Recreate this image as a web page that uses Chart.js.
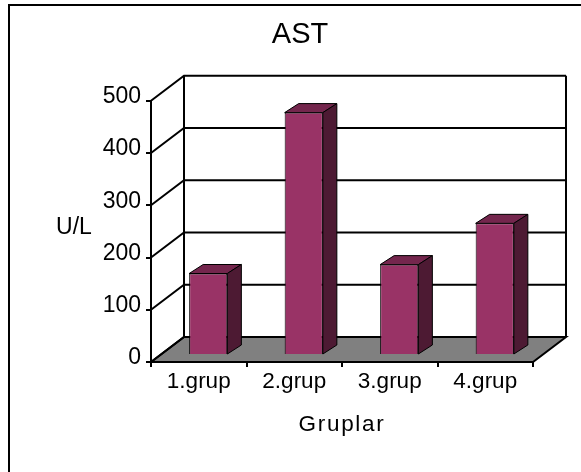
<!DOCTYPE html>
<html>
<head>
<meta charset="utf-8">
<style>
  html, body { margin: 0; padding: 0; background: #fff; }
  #wrap { width: 581px; height: 472px; }
</style>
<script src="https://cdn.jsdelivr.net/npm/chart.js@4"></script>
</head>
<body>
<div id="wrap"><canvas id="myChart" width="581" height="472"></canvas></div>
<script>
var categories = ['1.grup', '2.grup', '3.grup', '4.grup'];
var astValues = [156, 464, 173, 252];
var yTicks = [0, 100, 200, 300, 400, 500];
var chartTitle = 'AST';
var xTitle = 'Gruplar';
var yTitle = 'U/L';

var FONT = '"Liberation Sans", Arial, sans-serif';

// depth of the box and how far the bars sit inside it
var depthX = 33, depthY = 25;
var barInX = 9.5, barInY = 7;
var sideX = 14, sideY = 9;

var box3d = {
  id: 'box3d',
  beforeDraw: function(chart) {
    // frame only has a top and a left edge, it runs off the picture
    var ctx = chart.ctx;
    ctx.save();
    ctx.strokeStyle = '#000';
    ctx.lineWidth = 2;
    ctx.beginPath();
    ctx.moveTo(9, chart.height);
    ctx.lineTo(9, 5);
    ctx.lineTo(chart.width, 5);
    ctx.stroke();
    ctx.restore();
  },
  beforeDatasetsDraw: function(chart) {
    var ctx = chart.ctx, y = chart.scales.y, x = chart.scales.x;
    var left = x.left, right = x.right, zero = y.getPixelForValue(0);
    ctx.save();
    // floor
    ctx.fillStyle = '#808080';
    ctx.beginPath();
    ctx.moveTo(left, zero);
    ctx.lineTo(left + depthX, zero - depthY);
    ctx.lineTo(right + depthX, zero - depthY);
    ctx.lineTo(right, zero);
    ctx.closePath();
    ctx.fill();
    ctx.strokeStyle = '#000';
    ctx.lineWidth = 2;
    ctx.stroke();
    // grid on side and back wall
    yTicks.forEach(function(v) {
      var py = y.getPixelForValue(v);
      ctx.beginPath();
      ctx.moveTo(left, py);
      ctx.lineTo(left + depthX, py - depthY);
      ctx.lineTo(right + depthX, py - depthY);
      ctx.stroke();
    });
    // wall edges
    var topY = y.getPixelForValue(yTicks[yTicks.length - 1]);
    ctx.beginPath();
    ctx.moveTo(left + depthX, zero - depthY);
    ctx.lineTo(left + depthX, topY - depthY);
    ctx.moveTo(right + depthX, zero - depthY);
    ctx.lineTo(right + depthX, topY - depthY);
    ctx.stroke();
    ctx.restore();
  },
  beforeDatasetDraw: function(chart) {
    chart.ctx.save();
    chart.ctx.translate(barInX, -barInY);
  },
  afterDatasetDraw: function(chart, args) {
    var ctx = chart.ctx;
    ctx.strokeStyle = '#000';
    ctx.lineWidth = 1;
    chart.getDatasetMeta(args.index).data.forEach(function(bar) {
      var l = bar.x - bar.width / 2, r = bar.x + bar.width / 2;
      // top face
      ctx.fillStyle = '#74264d';
      ctx.beginPath();
      ctx.moveTo(l, bar.y);
      ctx.lineTo(l + sideX, bar.y - sideY);
      ctx.lineTo(r + sideX, bar.y - sideY);
      ctx.lineTo(r, bar.y);
      ctx.closePath();
      ctx.fill();
      ctx.stroke();
      // right face
      ctx.fillStyle = '#4d1a33';
      ctx.beginPath();
      ctx.moveTo(r, bar.y);
      ctx.lineTo(r + sideX, bar.y - sideY);
      ctx.lineTo(r + sideX, bar.base - sideY);
      ctx.lineTo(r, bar.base);
      ctx.closePath();
      ctx.fill();
      ctx.stroke();
    });
    ctx.restore();
  },
  afterDraw: function(chart) {
    var ctx = chart.ctx, y = chart.scales.y, x = chart.scales.x;
    ctx.save();
    ctx.fillStyle = '#000';
    ctx.font = '23px ' + FONT;
    ctx.textBaseline = 'middle';
    // value labels sit a little above their tick in the original
    ctx.textAlign = 'right';
    yTicks.forEach(function(v) {
      ctx.fillText(String(v), 141, y.getPixelForValue(v) - 4);
    });
    ctx.textAlign = 'center';
    ctx.fillText(yTitle, 74, (y.top + y.bottom) / 2 - 4);
    ctx.font = '22.5px ' + FONT;
    ctx.letterSpacing = '1.7px';
    ctx.fillText(xTitle, (x.left + x.right) / 2, 425);
    ctx.restore();
  }
};

var ctx = document.getElementById('myChart').getContext('2d');
var chart = new Chart(ctx, {
  type: 'bar',
  data: {
    labels: categories,
    datasets: [{
      label: 'AST',
      data: astValues,
      backgroundColor: '#993366',
      borderColor: '#000',
      borderWidth: 1,
      barPercentage: 0.4,
      categoryPercentage: 1
    }]
  },
  options: {
    responsive: false,
    animation: false,
    layout: { padding: { left: 67, right: 48, top: 0, bottom: 0 } },
    plugins: {
      legend: { display: false },
      tooltip: { enabled: false },
      title: {
        display: true,
        text: chartTitle,
        color: '#000',
        font: { family: FONT, size: 29, weight: 'normal' },
        padding: { top: 18, bottom: 48 }
      }
    },
    scales: {
      x: {
        grid: { display: true, drawOnChartArea: false, color: '#000', lineWidth: 2, tickLength: 5, offset: true },
        border: { color: '#000', width: 2 },
        ticks: { color: '#000', font: { family: FONT, size: 22.5 }, padding: 1, maxRotation: 0 },
        afterFit: function(s) { s.height = 110; }
      },
      y: {
        min: 0,
        max: 500,
        grid: { display: true, drawOnChartArea: false, color: '#000', lineWidth: 2, tickLength: 5 },
        border: { color: '#000', width: 2 },
        ticks: { display: false, stepSize: 100 },
        afterFit: function(s) { s.width = 84; }
      }
    }
  },
  plugins: [box3d]
});
</script>
</body>
</html>
